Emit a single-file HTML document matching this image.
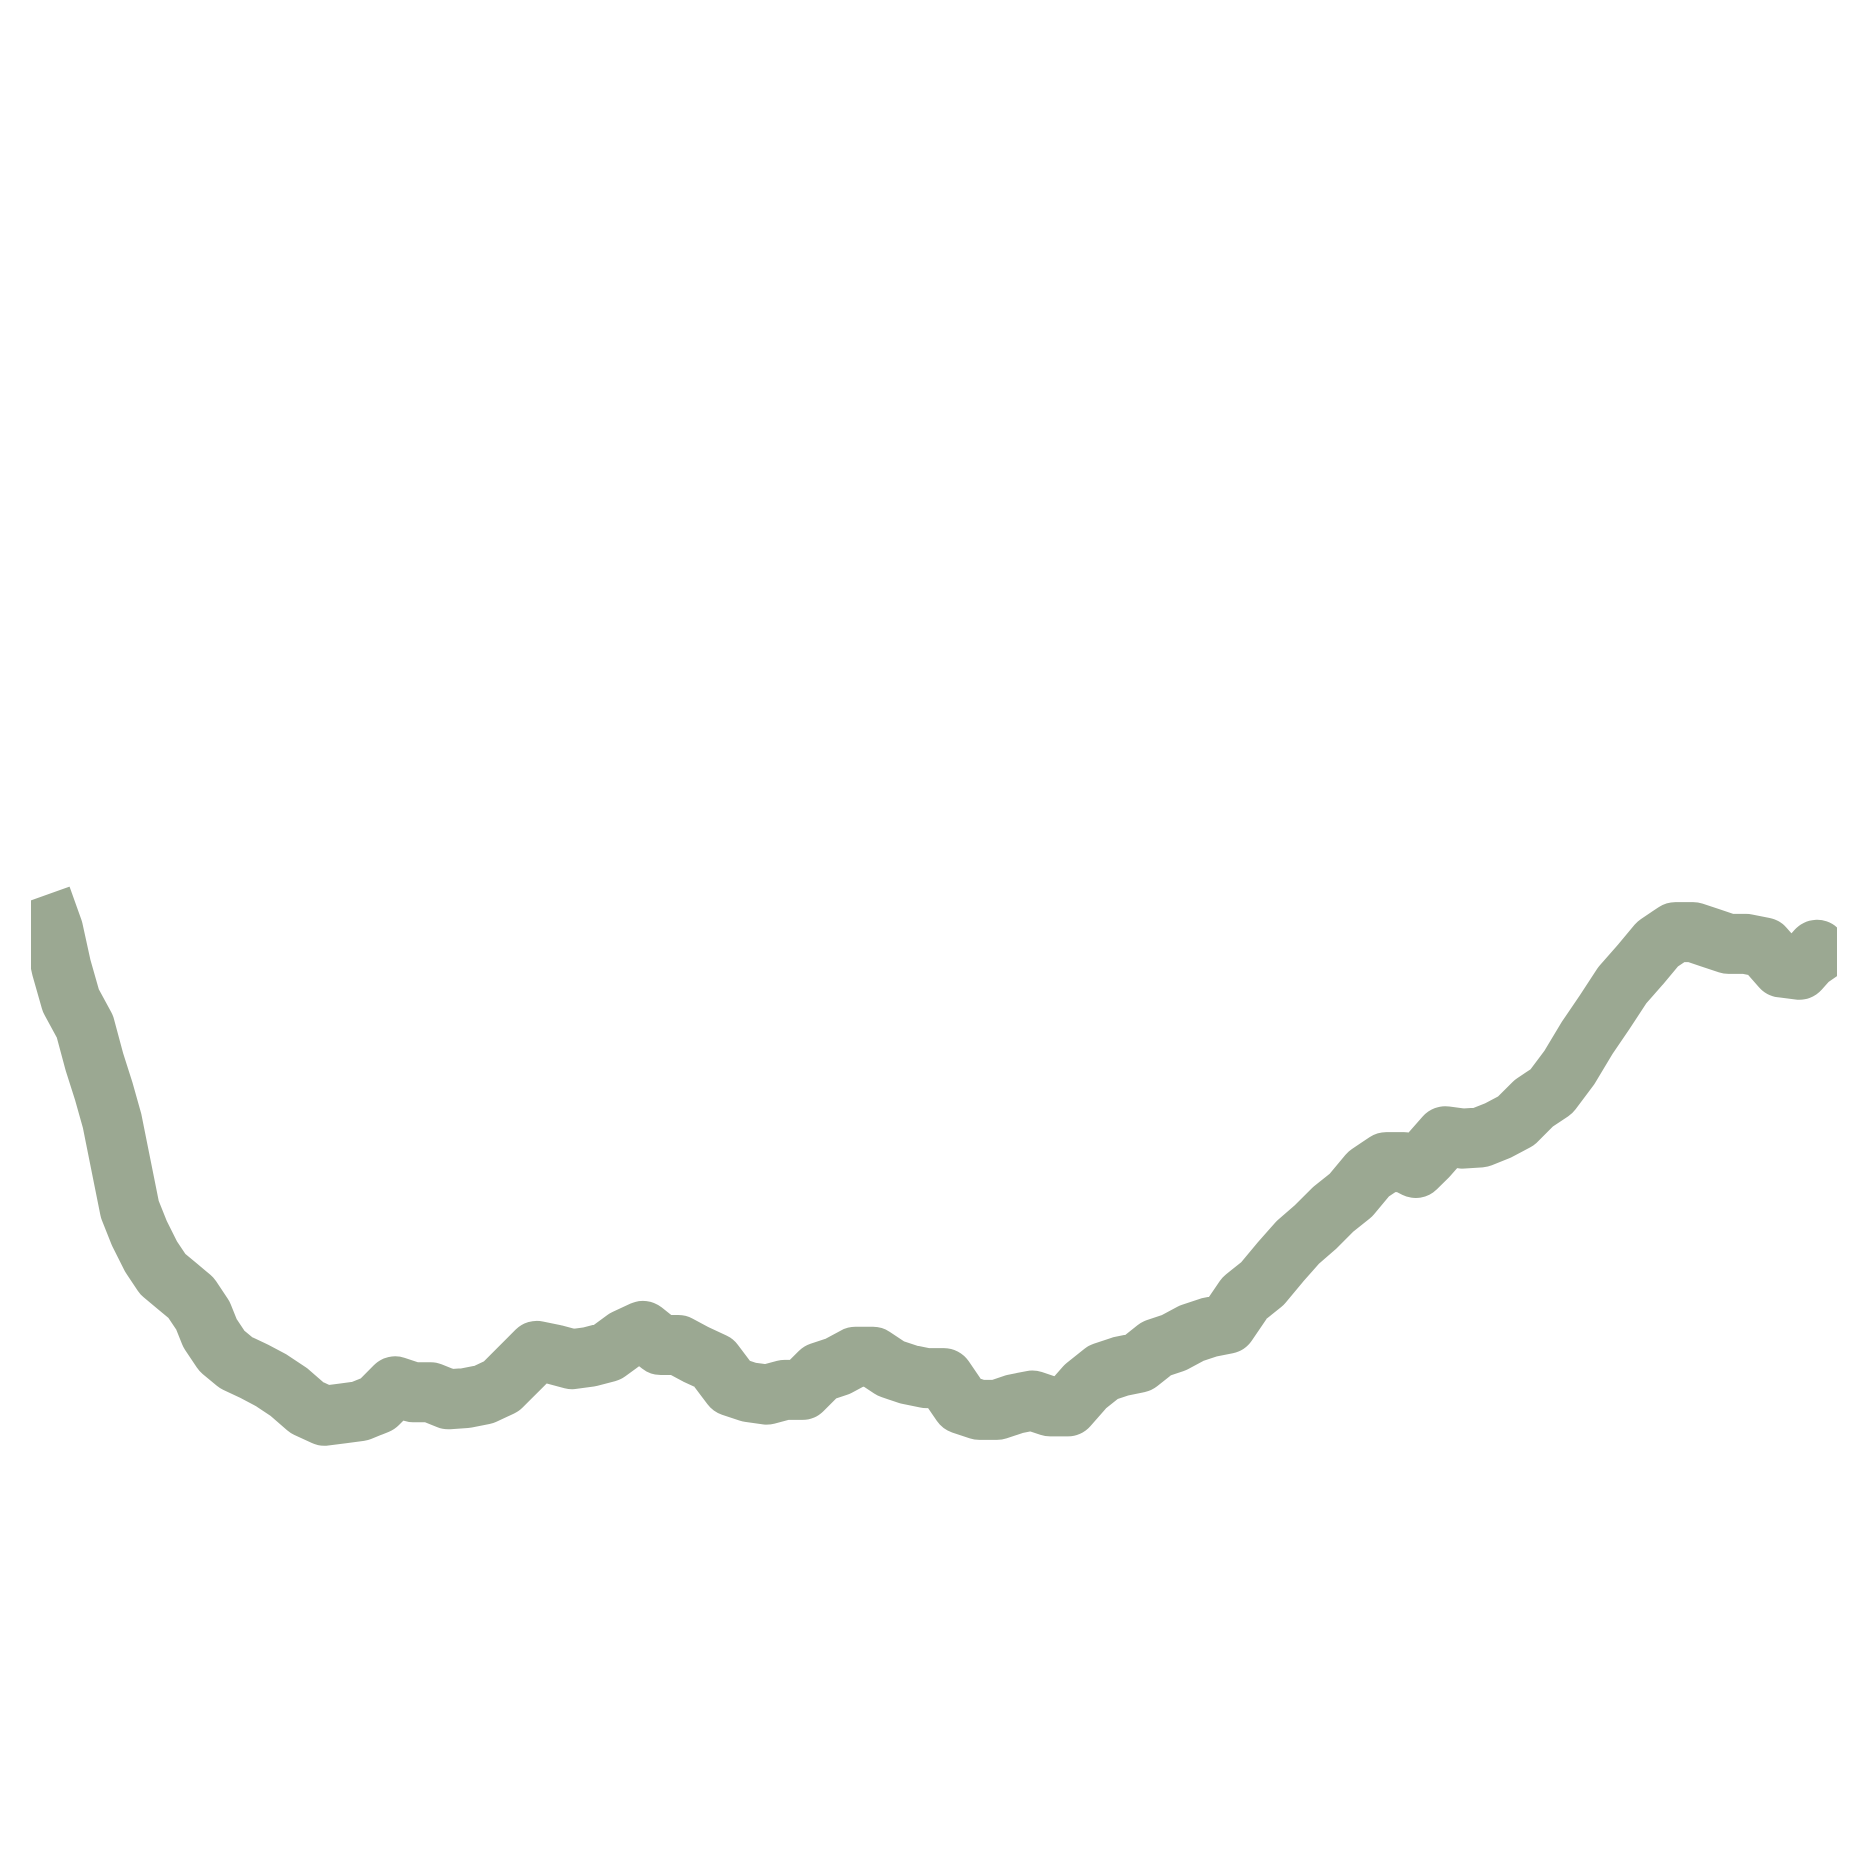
<!DOCTYPE html>
<html><head><meta charset="utf-8"><style>html,body{margin:0;padding:0;background:#fff}svg{display:block}</style></head>
<body>
<svg id="chart" width="1850" height="1850" viewBox="0 0 1850 1850" xmlns="http://www.w3.org/2000/svg">
<defs><clipPath id="clip"><rect x="31" y="0" width="1806" height="1850"/></clipPath></defs>
<g id="plot" clip-path="url(#clip)"></g>
</svg>
<script>
const tValues=[35,45,52,60,72,80,88,95,100,105,110,118,128,138,150,162,172,178,188,200,215,230,245,260,275,290,305,320,335,350,365,380,395,410,425,440,455,470,485,500,515,530,545,560,575,590,605,620,635,650,665,680,695,710,725,740,755,770,785,800,815,830,845,860,875,890,905,920,935,950,965,980,995,1010,1025,1040,1055,1070,1085,1100,1115,1130,1145,1160,1175,1190,1200,1210,1225,1240,1255,1270,1285,1300,1315,1330,1345,1360,1375,1390,1405,1420,1435,1450,1465,1480,1495,1510,1525,1540,1556];
const seriesValues=[540,512,480,452,430,400,375,350,325,300,275,255,235,220,210,200,185,170,155,145,138,130,120,107,100,102,104,110,125,120,120,114,115,118,125,140,155,152,148,150,154,165,172,160,160,152,145,125,120,118,122,122,137,142,150,150,140,135,132,132,110,105,105,110,113,108,108,125,137,142,145,157,162,170,175,178,200,212,230,247,260,275,287,305,315,315,310,320,337,335,336,342,350,365,375,395,420,442,465,482,500,510,510,505,500,500,497,480,478,495,472];
const S=1850/1568;
function xScale(t){return t*S;}
function yScale(v){return (1300-v)*S;}
const g=document.getElementById('plot');
let d='';
tValues.forEach((t,i)=>{d+=(i?'L':'M')+xScale(t).toFixed(1)+','+yScale(seriesValues[i]).toFixed(1);});
const p=document.createElementNS('http://www.w3.org/2000/svg','path');
p.setAttribute('d',d);
p.setAttribute('fill','none');
p.setAttribute('stroke','#9ba892');
p.setAttribute('stroke-width','60');
p.setAttribute('stroke-linejoin','round');
p.setAttribute('stroke-linecap','butt');


g.appendChild(p);
</script>
</body></html>
